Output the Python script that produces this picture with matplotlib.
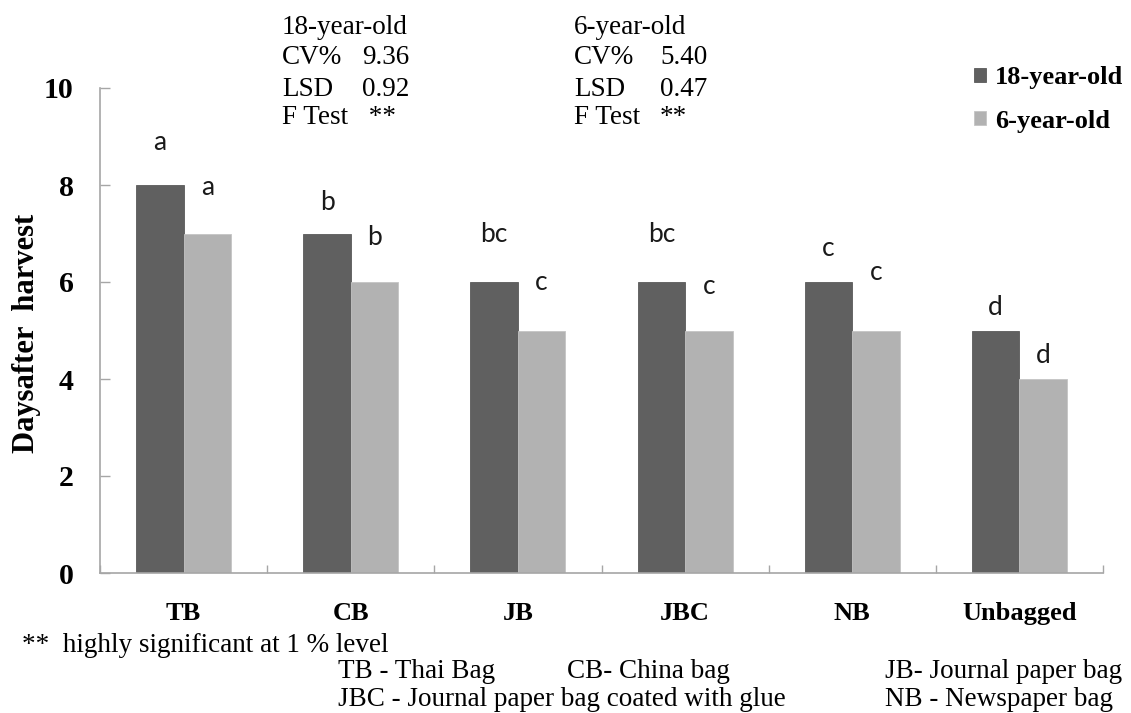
import matplotlib
matplotlib.use("Agg")
import matplotlib.pyplot as plt
import numpy as np

# Data
categories = ["TB", "CB", "JB", "JBC", "NB", "Unbagged"]
days_18yr = [8, 7, 6, 6, 6, 5]
days_6yr = [7, 6, 5, 5, 5, 4]
letters_18yr = ["a", "b", "bc", "bc", "c", "d"]
letters_6yr = ["a", "b", "c", "c", "c", "d"]
series_names = ["18-year-old", "6-year-old"]
stats_18yr = [("CV%", "9.36"), ("LSD", "0.92"), ("F Test", " **")]
stats_6yr = [("CV%", "5.40"), ("LSD", "0.47"), ("F Test", "**")]
footnote = "**  highly significant at 1 % level"
abbreviations = [
    ("TB - Thai Bag", "CB- China bag", "JB- Journal paper bag"),
    ("JBC - Journal paper bag coated with glue", None, "NB - Newspaper bag"),
]
yticks = [0, 2, 4, 6, 8, 10]

# Layout of letter labels above each bar (data units above bar top)
letter_gap_18 = [0.87, 0.63, 0.97, 0.97, 0.70, 0.48]
letter_gap_6 = [0.94, 0.91, 0.98, 0.90, 1.19, 0.49]

W, H = 1131, 713
fig = plt.figure(figsize=(W / 100, H / 100), dpi=100)
ax = fig.add_axes([100 / W, 1 - 573 / H, 1003 / W, 485 / H])

serif = ["Liberation Serif", "DejaVu Serif"]
sans = ["Lato", "DejaVu Sans"]
dark, light = "#606060", "#b2b2b2"
spine_c = "#a6a6a6"

x = np.arange(len(categories))
bw = 0.284
b1 = ax.bar(x - bw / 2, days_18yr, bw, color=dark, label=series_names[0],
            edgecolor="#5a5a5a", linewidth=0.6)
b2 = ax.bar(x + bw / 2, days_6yr, bw, color=light, label=series_names[1],
            edgecolor="#c4c4c4", linewidth=0.6)

for i in range(len(categories)):
    ax.text(x[i] - bw / 2, days_18yr[i] + letter_gap_18[i], letters_18yr[i],
            ha="center", va="center", fontsize=19, family=sans, color="#1a1a1a")
    ax.text(x[i] + bw / 2, days_6yr[i] + letter_gap_6[i], letters_6yr[i],
            ha="center", va="center", fontsize=19, family=sans, color="#1a1a1a")

ax.set_xlim(-0.5, len(categories) - 0.5)
ax.set_ylim(0, 10)
ax.set_yticks(yticks)
ax.set_yticklabels([str(t) for t in yticks], fontsize=21.5, fontweight="bold",
                   family=serif)
ax.tick_params(axis="y", direction="in", length=7.2, width=1, color=spine_c,
               pad=19)
ax.set_xticks(x)
ax.set_xticklabels(categories, fontsize=19, fontweight="bold", family=serif)
ax.tick_params(axis="x", which="major", length=0, pad=21)
ax.set_xticks(np.arange(-0.5, len(categories)), minor=True)
ax.tick_params(axis="x", which="minor", direction="in", length=5.8, width=1,
               color=spine_c)

for s in ["top", "right"]:
    ax.spines[s].set_visible(False)
for s in ["left", "bottom"]:
    ax.spines[s].set_color(spine_c)
    ax.spines[s].set_linewidth(1.2)

fig.text(27 / W, 1 - 333 / H, "Daysafter  harvest", rotation=90,
         ha="center", va="center", fontsize=22, fontweight="bold", family=serif)


def px(xp, yp):
    return xp / W, 1 - yp / H


def stats_block(x0, xv, name, rows):
    ys = [27, 58, 89, 118]
    fig.text(*px(x0, ys[0]), name, ha="left", va="center", fontsize=19.5,
             family=serif)
    for (lab, val), yy in zip(rows, ys[1:]):
        fig.text(*px(x0, yy), lab, ha="left", va="center", fontsize=19.5,
                 family=serif)
        fig.text(*px(xv, yy), val, ha="left", va="center", fontsize=19.5,
                 family=serif)


stats_block(282, 362, series_names[0], stats_18yr)
stats_block(574, 660, series_names[1], stats_6yr)

leg = ax.legend(handles=[b1, b2], loc="upper left",
                bbox_to_anchor=(974 / W, 1 - 66 / H),
                bbox_transform=fig.transFigure, frameon=False,
                handlelength=0.45, handleheight=0.45, handletextpad=0.35,
                labelspacing=0.78, borderpad=0, borderaxespad=0,
                prop={"family": serif, "weight": "bold", "size": 19})

fig.text(*px(22, 646), footnote, ha="left", va="center", fontsize=19.5,
         family=serif)
cols = [338, 567, 885]
rows_y = [672, 699]
for r, line in enumerate(abbreviations):
    for c, t in enumerate(line):
        if t:
            fig.text(*px(cols[c], rows_y[r]), t, ha="left", va="center",
                     fontsize=19.5, family=serif)

fig.savefig("out.png", dpi=100)
